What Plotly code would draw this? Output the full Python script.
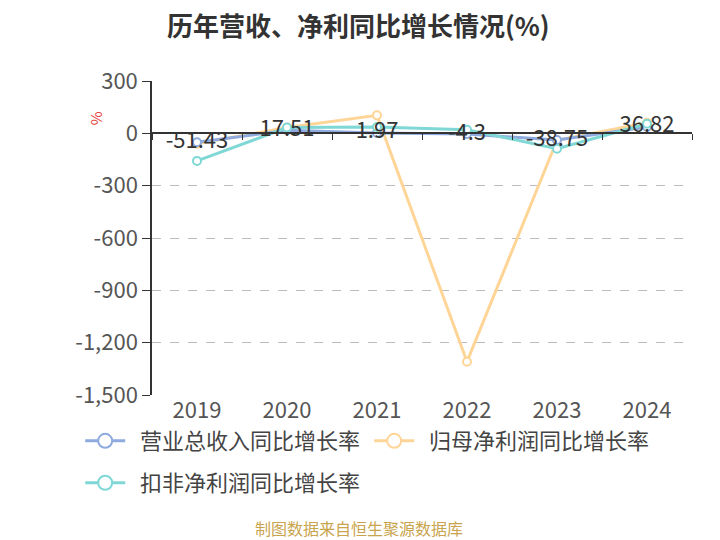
import plotly.graph_objects as go

years = ["2019", "2020", "2021", "2022", "2023", "2024"]
revenue_growth = [-51.43, 17.51, 1.97, -4.3, -38.75, 36.82]
net_profit_growth = [-60, 34, 103, -1309, -40, 61]
deducted_profit_growth = [-158, 33, 36, 21, -88, 55]
y_ticks = [300, 0, -300, -600, -900, -1200, -1500]
y_tick_labels = ["300", "0", "-300", "-600", "-900", "-1,200", "-1,500"]

series_names = ["营业总收入同比增长率", "归母净利润同比增长率", "扣非净利润同比增长率"]
colors = ["#8eaadf", "#ffd597", "#7fd8d6"]

FONT = "Noto Sans CJK SC"
NB = "\u00a0\u00a0"

fig = go.Figure()

order = [1, 0, 2]
data = [revenue_growth, net_profit_growth, deducted_profit_growth]
for i in order:
    fig.add_trace(go.Scatter(
        x=years, y=data[i], mode="lines+markers",
        line=dict(color=colors[i], width=3),
        marker=dict(symbol="circle", size=8, color="white",
                    line=dict(color=colors[i], width=2)),
        showlegend=False, hoverinfo="skip",
    ))

fig.add_trace(go.Scatter(
    x=years, y=revenue_growth, mode="text",
    text=[str(v) for v in revenue_growth],
    textposition="middle center",
    textfont=dict(family=FONT, size=22, color="#333333"),
    showlegend=False, hoverinfo="skip",
))

legend_ids = ["legend", "legend", "legend2"]
for i in range(3):
    fig.add_trace(go.Scatter(
        x=[None], y=[None], mode="lines+markers", name=NB + series_names[i],
        legend=legend_ids[i],
        line=dict(color=colors[i], width=3),
        marker=dict(symbol="circle", size=14, color="white",
                    line=dict(color=colors[i], width=2)),
    ))

fig.add_trace(go.Scatter(x=years, y=[None] * 6, xaxis="x2", showlegend=False, hoverinfo="skip"))

legend_common = dict(orientation="h", xanchor="left", yanchor="middle",
                     font=dict(family=FONT, size=22, color="#444444"),
                     entrywidth=234, entrywidthmode="pixels", itemwidth=40,
                     bgcolor="rgba(0,0,0,0)")

fig.update_layout(
    width=712, height=532,
    paper_bgcolor="white", plot_bgcolor="white",
    margin=dict(l=144, r=28, t=73, b=145),
    font=dict(family=FONT, color="#333333"),
    xaxis=dict(type="category", categoryorder="array", categoryarray=years,
               range=[-0.5, 5.5], showgrid=False, showline=False, ticks="",
               tickfont=dict(family=FONT, size=22, color="#555555"),
               zeroline=False),
    xaxis2=dict(type="category", categoryorder="array", categoryarray=years,
                range=[-0.5, 5.5], overlaying="x", anchor="free", position=1500 / 1800,
                side="bottom", showline=True, linecolor="#333333", linewidth=1.5,
                ticks="outside", tickson="boundaries", ticklen=6, tickcolor="#333333",
                showticklabels=False, showgrid=False, zeroline=False),
    yaxis=dict(range=[-1500, 300], tickvals=y_ticks, ticktext=y_tick_labels,
               showgrid=True, gridcolor="#bbbbbb", griddash="dash", gridwidth=1,
               showline=True, linecolor="#333333", linewidth=1.5,
               ticks="outside", ticklen=8, tickcolor="#333333",
               tickfont=dict(family=FONT, size=22, color="#555555"),
               zeroline=False),
    legend=dict(x=-0.133, y=-0.1465, **legend_common),
    legend2=dict(x=-0.133, y=-0.280, **legend_common),
    annotations=[
        dict(text="<b>历年营收、净利同比增长情况(%)</b>", xref="paper", yref="paper",
             x=0.3815, y=1.181, xanchor="center", yanchor="middle", showarrow=False,
             font=dict(family=FONT, size=26, color="#333333")),
        dict(text="制图数据来自恒生聚源数据库", xref="paper", yref="paper",
             x=0.383, y=-0.422, xanchor="center", yanchor="middle", showarrow=False,
             font=dict(family=FONT, size=16, color="#c9a44e")),
        dict(text="%", xref="paper", yref="y", x=-0.1056, y=86,
             xanchor="center", yanchor="middle", showarrow=False, textangle=-90,
             font=dict(family=FONT, size=15, color="#e84040")),
    ],
)

fig.write_html("out.html")
